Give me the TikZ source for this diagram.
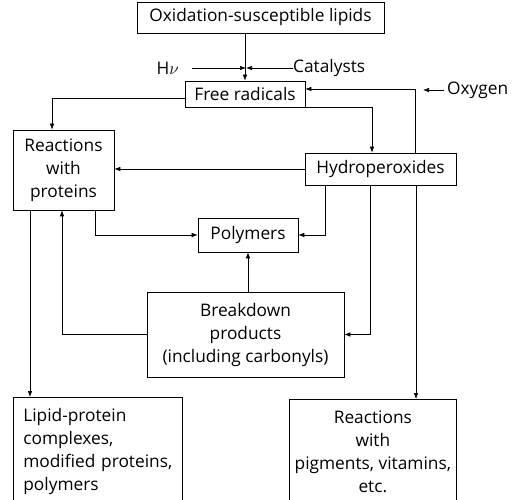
\documentclass[tikz,border=0pt]{standalone}
\usepackage{fontspec}
\setmainfont{Open Sans}
\usetikzlibrary{arrows.meta}
\begin{document}
\begin{tikzpicture}[x=1pt,y=-1pt,
		box/.style={draw,line width=0.7pt,inner sep=0pt,align=center,font=\fontsize{17.3}{23}\selectfont},
		lbl/.style={inner sep=0pt,font=\fontsize{17.3}{18}\selectfont},
		arr/.style={-{Latex[length=6pt,width=4.5pt]},line width=0.6pt}]
		\clip (0,0) rectangle (524,499);
		\node[box,minimum width=247,minimum height=31] (lipids) at (260.5,17.5) {Oxidation-susceptible lipids};
		\node[box,minimum width=120,minimum height=26] (free) at (245,94) {Free radicals};
		\node[box,minimum width=101,minimum height=80] (react) at (63.5,170) {Reactions\\with\\proteins};
		\node[box,minimum width=151,minimum height=32] (hydro) at (380.5,169) {Hydroperoxides};
		\node[box,minimum width=100,minimum height=34] (poly) at (248,235) {Polymers};
		\node[box,minimum width=197,minimum height=85] (break) at (245.5,334.5) {Breakdown\\products\\(including carbonyls)};
		\node[box,anchor=north west,align=left,text width=149,inner xsep=10,minimum height=108] (lipprot) at (13,397) {Lipid-protein\\complexes,\\modified proteins,\\polymers};
		\node[box,anchor=north west,minimum width=167,minimum height=104] (pigm) at (289,399) {Reactions\\with\\pigments, vitamins,\\etc.};
		\node[lbl,anchor=east] (hv) at (179,68) {H$\nu$};
		\node[lbl,anchor=west] (cat) at (293,68) {Catalysts};
		\node[lbl,anchor=west] (oxygen) at (447,90) {Oxygen};
		\coordinate (junc) at (246,68);
		\coordinate (oxin) at (423,90);
		% initiation
		\draw[arr] (lipids.south -| free.north) -- (free.north);
		\draw[arr] ([xshift=13pt]hv.east) -- (junc);
		\draw[arr] (cat.west) -- (junc);
		\draw[arr] ([xshift=-3pt]oxygen.west) -- (oxin);
		% radicals and hydroperoxides
		\draw[arr] ([yshift=-4pt]free.west) -| ([xshift=-11.5pt]react.north);
		\draw[arr] (free.south east) -| ([xshift=-8.5pt]hydro.north);
		\draw[arr] ([xshift=34.5pt]hydro.north) |- ([yshift=5pt]free.east);
		\draw[arr] (hydro.west) -- (hydro.west -| react.east);
		% polymers
		\draw[arr] ([xshift=31.5pt]react.south) |- (poly.west);
		\draw[arr] ([xshift=-55.5pt]hydro.south) |- (poly.east);
		\draw[arr] (poly.south |- break.north) -- (poly.south);
		% breakdown
		\draw[arr] (break.west) -| ([xshift=-1.5pt]react.south);
		\draw[arr] ([xshift=-10.5pt]hydro.south) |- (break.east);
		% end products
		\draw[arr] ([xshift=35.5pt]hydro.south) -- ([xshift=35.5pt]hydro.south |- pigm.north);
		\draw[arr] ([xshift=-33.5pt]react.south) -- ([xshift=-33.5pt]react.south |- lipprot.north);
	\end{tikzpicture}
\end{document}
